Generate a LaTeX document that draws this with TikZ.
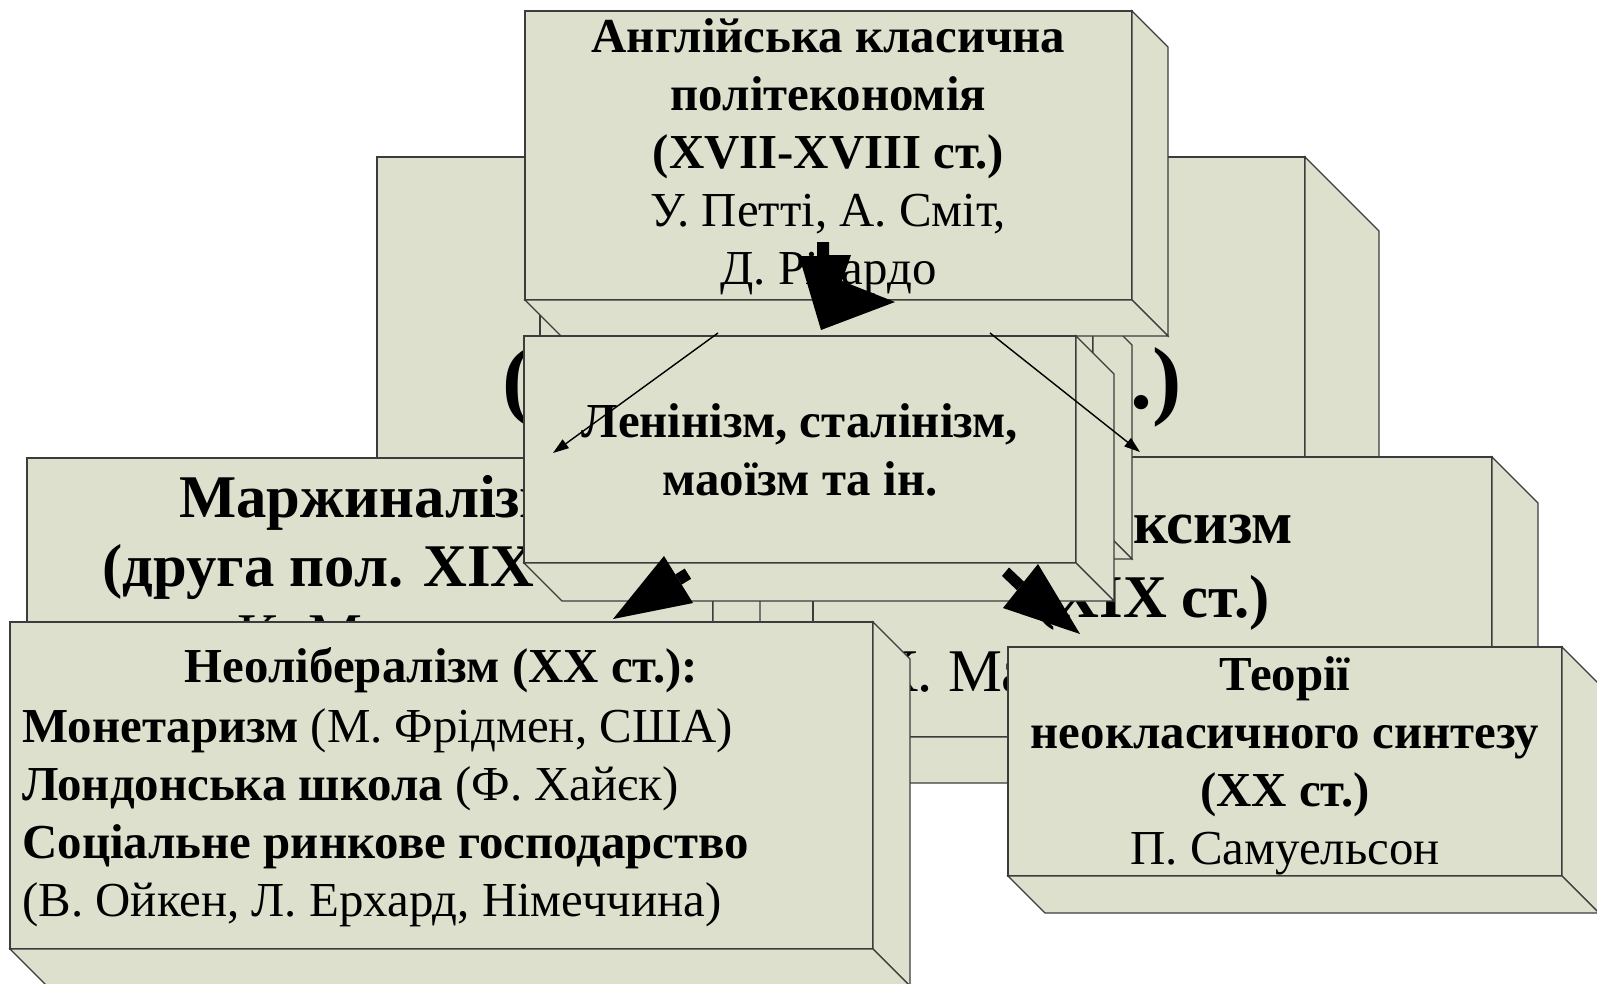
\documentclass[tikz,border=0pt]{standalone}
\usepackage{fontspec}
\setmainfont{Liberation Serif}
\usetikzlibrary{arrows.meta,fit}
\definecolor{boxfill}{RGB}{221,224,204}
\definecolor{edgecol}{RGB}{60,60,60}
\tikzset{
  face/.style={draw=edgecol, fill=boxfill, line width=0.7pt, inner sep=0pt, outer sep=0pt, rectangle},
  side/.style={draw=edgecol, fill=boxfill, line width=0.7pt, line join=miter},
  txtS/.style={font=\fontsize{27.8pt}{33pt}\selectfont, align=center, inner sep=0pt},
  txtM/.style={font=\fontsize{34.5pt}{39.3pt}\selectfont, align=center, inner sep=0pt},
  txtK/.style={font=\fontsize{34.5pt}{42pt}\selectfont, align=center, inner sep=0pt},
  txtN/.style={font=\fontsize{27.8pt}{33pt}\selectfont, inner sep=0pt},
  txtBig/.style={font=\bfseries\fontsize{50pt}{56pt}\selectfont, inner sep=0pt},
  thinarrow/.style={-{Triangle[length=9pt,width=6pt]}, line width=0.8pt},
  blockarrow/.style={fill=black},
}
\newcommand\tdbox[6]{%
  \node[face, fit={(#2,#3) (#4,#5)}] (#1) {};
  \filldraw[side] (#1.north east) -- ++(#6,#6) -- ([shift={(#6,#6)}]#1.south east) -- (#1.south east) -- cycle;
  \filldraw[side] (#1.south west) -- ([shift={(#6,#6)}]#1.south west) -- ([shift={(#6,#6)}]#1.south east) -- (#1.south east) -- cycle;
}
\begin{document}
\begin{tikzpicture}[x=0.02cm, y=-0.02cm]
\useasboundingbox (0,0) rectangle (1597,984);
% back box (mostly hidden)
\tdbox{B}{377}{157}{1305}{690}{74}
\node[txtBig, anchor=base] (Bl) at (517,408) {(};
\node[txtBig, anchor=base] (Br) at (1156,408) {.)};
% Marginalism
\tdbox{M}{27}{458}{713}{682}{47}
\node[txtM] (Mt) at ([shift={(0,2)}]M.center) {\textbf{Маржиналізм}\\\textbf{(друга пол. XIX ст.)}\\К. Менгер};
% Marxism
\tdbox{K}{813}{457}{1492}{737}{46}
\node[txtK] (Kt) at ([shift={(0,7)}]K.center) {\textbf{Марксизм}\\\textbf{(XIX ст.)}\\К. Маркс, Ф. Енгельс};
% hidden box
\tdbox{H}{540}{306}{1093}{520}{39}
% English classical
\tdbox{T}{525}{11}{1132}{300}{36}
\node[txtS] (Tt) at ([shift={(0,1)}]T.center) {\textbf{Англійська класична}\\\textbf{політекономія}\\\textbf{(XVII-XVIII ст.)}\\У. Петті, А. Сміт,\\Д. Рікардо};
% Leninism
\tdbox{L}{524}{336}{1076}{563}{38}
\node[txtS] (Lt) at (L.center) {\textbf{Ленінізм, сталінізм,}\\\textbf{маоїзм та ін.}};
% Neoliberalism
\tdbox{N}{10}{622}{873}{949}{37}
\node[txtN, anchor=base] (N0) at (441.5,682) {\textbf{Неолібералізм (XX ст.):}};
\node[txtN, anchor=base west] (N1) at (22,742) {\textbf{Монетаризм} (М. Фрідмен, США)};
\node[txtN, anchor=base west] (N2) at (22,800) {\textbf{Лондонська школа} (Ф. Хайєк)};
\node[txtN, anchor=base west] (N3) at (22,858) {\textbf{Соціальне ринкове господарство}};
\node[txtN, anchor=base west] (N4) at (22,916) {(В. Ойкен, Л. Ерхард, Німеччина)};
% Neoclassical synthesis
\tdbox{Th}{1008}{647}{1562}{876}{37}
\node[txtS] (Tht) at ([shift={(0,4)}]Th.center) {\textbf{Теорії}\\\textbf{неокласичного синтезу}\\\textbf{(XX ст.)}\\П. Самуельсон};
% thin arrows
\coordinate (a1s) at (718,333);
\coordinate (a1e) at (553,453);
\coordinate (a2s) at (990,333);
\coordinate (a2e) at (1140,452);
\draw[thinarrow] (a1s) -- (a1e);
\draw[thinarrow] (a2s) -- (a2e);
% block arrows
\fill[blockarrow] (817,242) -- (829,242) -- (829,255) -- (851,255) -- (842,281) -- (895,302) -- (821,330) -- (799,256) -- (817,256) -- cycle;
\fill[blockarrow] (675.3,574.4) -- (684.7,568.6) -- (691.1,578.8) -- (681.7,584.6) -- cycle;
\fill[blockarrow] (664,556) -- (693,603) -- (613,619) -- cycle;
\fill[blockarrow] (1024,581.7) -- (1017,590.3) -- (1002,576) -- (1009,567.5) -- cycle;
\fill[blockarrow] (1038,564) -- (1003,608) -- (1080,634) -- cycle;
\end{tikzpicture}
\end{document}
